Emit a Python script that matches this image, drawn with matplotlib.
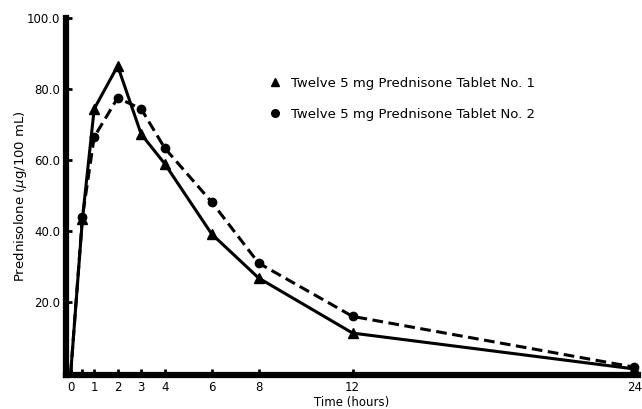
import matplotlib.pyplot as plt
from matplotlib.lines import Line2D

plt.rcParams['font.family'] = ['DejaVu Sans']

# sampling times (hours) and plasma prednisolone (ug/100 mL)
hours = [0, 0.5, 1, 2, 3, 4, 6, 8, 12, 24]
tablet1 = [0, 43.5, 74.4, 86.5, 67.3, 59.0, 39.2, 26.8, 11.3, 1.2]
tablet2 = [0, 44.0, 66.5, 77.5, 74.4, 63.4, 48.2, 31.0, 16.0, 1.7]

xticks = [0, 0.5, 1, 2, 3, 4, 6, 8, 12, 24]
xticklabels = ['0', '', '1', '2', '3', '4', '6', '8', '12', '24']
yticks = [20, 40, 60, 80, 100]
yticklabels = ['20.0', '40.0', '60.0', '80.0', '100.0']

label1 = 'Twelve 5 mg Prednisone Tablet No. 1'
label2 = 'Twelve 5 mg Prednisone Tablet No. 2'

fig = plt.figure(figsize=(6.42, 4.09), dpi=100)
ax = fig.add_axes([0.1028, 0.0831, 0.891, 0.873])

# no marker drawn at t = 0
ax.plot(hours, tablet1, color='black', lw=2.2, ls='-',
        marker='^', ms=6.5, markevery=list(range(1, len(hours))),
        clip_on=False)
ax.plot(hours, tablet2, color='black', lw=2.2, ls=(0, (3.5, 1.8)),
        marker='o', ms=6, markevery=list(range(1, len(hours))),
        clip_on=False)

ax.set_xlim(-0.2, 24.15)
ax.set_ylim(-0.5, 100)

for side in ['top', 'right']:
    ax.spines[side].set_visible(False)
for side in ['left', 'bottom']:
    ax.spines[side].set_linewidth(4.5)

ax.set_xticks(xticks)
ax.set_xticklabels(xticklabels)
ax.set_yticks(yticks)
ax.set_yticklabels(yticklabels)
ax.tick_params(axis='both', direction='in', length=4, width=2,
               labelsize=8.5, pad=4)

ax.set_xlabel('Time (hours)', fontsize=8.5, labelpad=2)
ax.set_ylabel('Prednisolone ($\\mu$g/100 mL)', fontsize=9.5)
ax.yaxis.set_label_coords(-0.064, 0.5)

handles = [Line2D([], [], color='black', ls='none', marker='^', ms=6),
           Line2D([], [], color='black', ls='none', marker='o', ms=5.5)]
fig.legend(handles, [label1, label2], loc='upper left',
           bbox_to_anchor=(262 / 642, 1 - 70 / 409), frameon=False,
           fontsize=9.5, handlelength=1, handletextpad=0.7,
           labelspacing=1.4, borderpad=0)

fig.savefig('out.png', dpi=100)
